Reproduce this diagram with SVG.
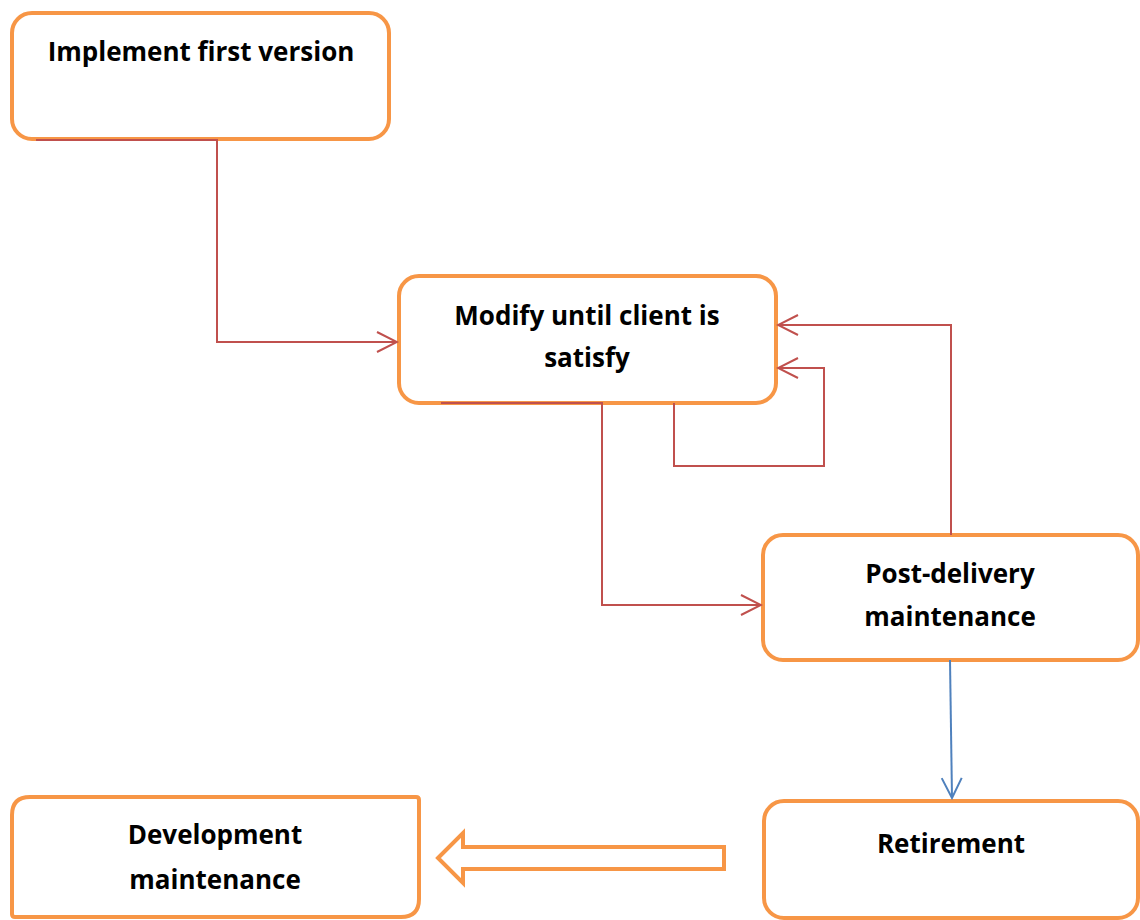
<svg xmlns="http://www.w3.org/2000/svg" width="1140" height="920" viewBox="0 0 1140 920">
<style>
.box{fill:#fff;stroke:#F79646;stroke-width:4}
.lbl{font-family:"Open Sans","Noto Sans","Liberation Sans",sans-serif;font-weight:700;font-size:26px;fill:#000;text-anchor:middle}
.red{fill:none;stroke:#C0504D;stroke-width:2}
.blue{fill:none;stroke:#4F81BD;stroke-width:2}
</style>
<defs>
<marker id="ar" viewBox="0 0 24 24" refX="22" refY="12" markerWidth="24" markerHeight="24" markerUnits="userSpaceOnUse" orient="auto">
<path d="M2 2 L22 12 L2 22" fill="none" stroke="#C0504D" stroke-width="2"/>
</marker>
<marker id="ab" viewBox="0 0 24 24" refX="22" refY="12" markerWidth="24" markerHeight="24" markerUnits="userSpaceOnUse" orient="auto">
<path d="M2 2 L22 12 L2 22" fill="none" stroke="#4F81BD" stroke-width="2"/>
</marker>
</defs>
<g id="n1">
<rect class="box" x="12" y="13" width="377" height="126" rx="20"/>
<text class="lbl" x="201" y="61">Implement first version</text>
</g>
<g id="n2">
<rect class="box" x="399" y="276" width="377" height="127" rx="20"/>
<text class="lbl" x="587" y="325">Modify until client is</text>
<text class="lbl" x="587" y="367">satisfy</text>
</g>
<g id="n3">
<rect class="box" x="763" y="535" width="375" height="125" rx="20"/>
<text class="lbl" x="950" y="583">Post-delivery</text>
<text class="lbl" x="950" y="626">maintenance</text>
</g>
<g id="n4">
<rect class="box" x="764" y="801" width="374" height="117" rx="20"/>
<text class="lbl" x="951" y="853">Retirement</text>
</g>
<g id="n5">
<path class="box" d="M30 797 H416 Q419 797 419 800 V899 Q419 917 401 917 H15 Q12 917 12 914 V815 Q12 797 30 797 Z"/>
<text class="lbl" x="215" y="844">Development</text>
<text class="lbl" x="215" y="889">maintenance</text>
</g>
<g id="connectors">
<path class="red" d="M36 140 H217 V342 H397" marker-end="url(#ar)"/>
<path class="red" d="M441 403 H602 V605 H761" marker-end="url(#ar)"/>
<path class="red" d="M674 403 V466 H824 V368 H778" marker-end="url(#ar)"/>
<path class="red" d="M951 535 V325 H778" marker-end="url(#ar)"/>
<path class="blue" d="M950 660 L952 798" marker-end="url(#ab)"/>
<path d="M438 858 L463 833 V847 H724 V869 H463 V883 Z" fill="#fff" stroke="#F79646" stroke-width="4"/>
</g>
</svg>
